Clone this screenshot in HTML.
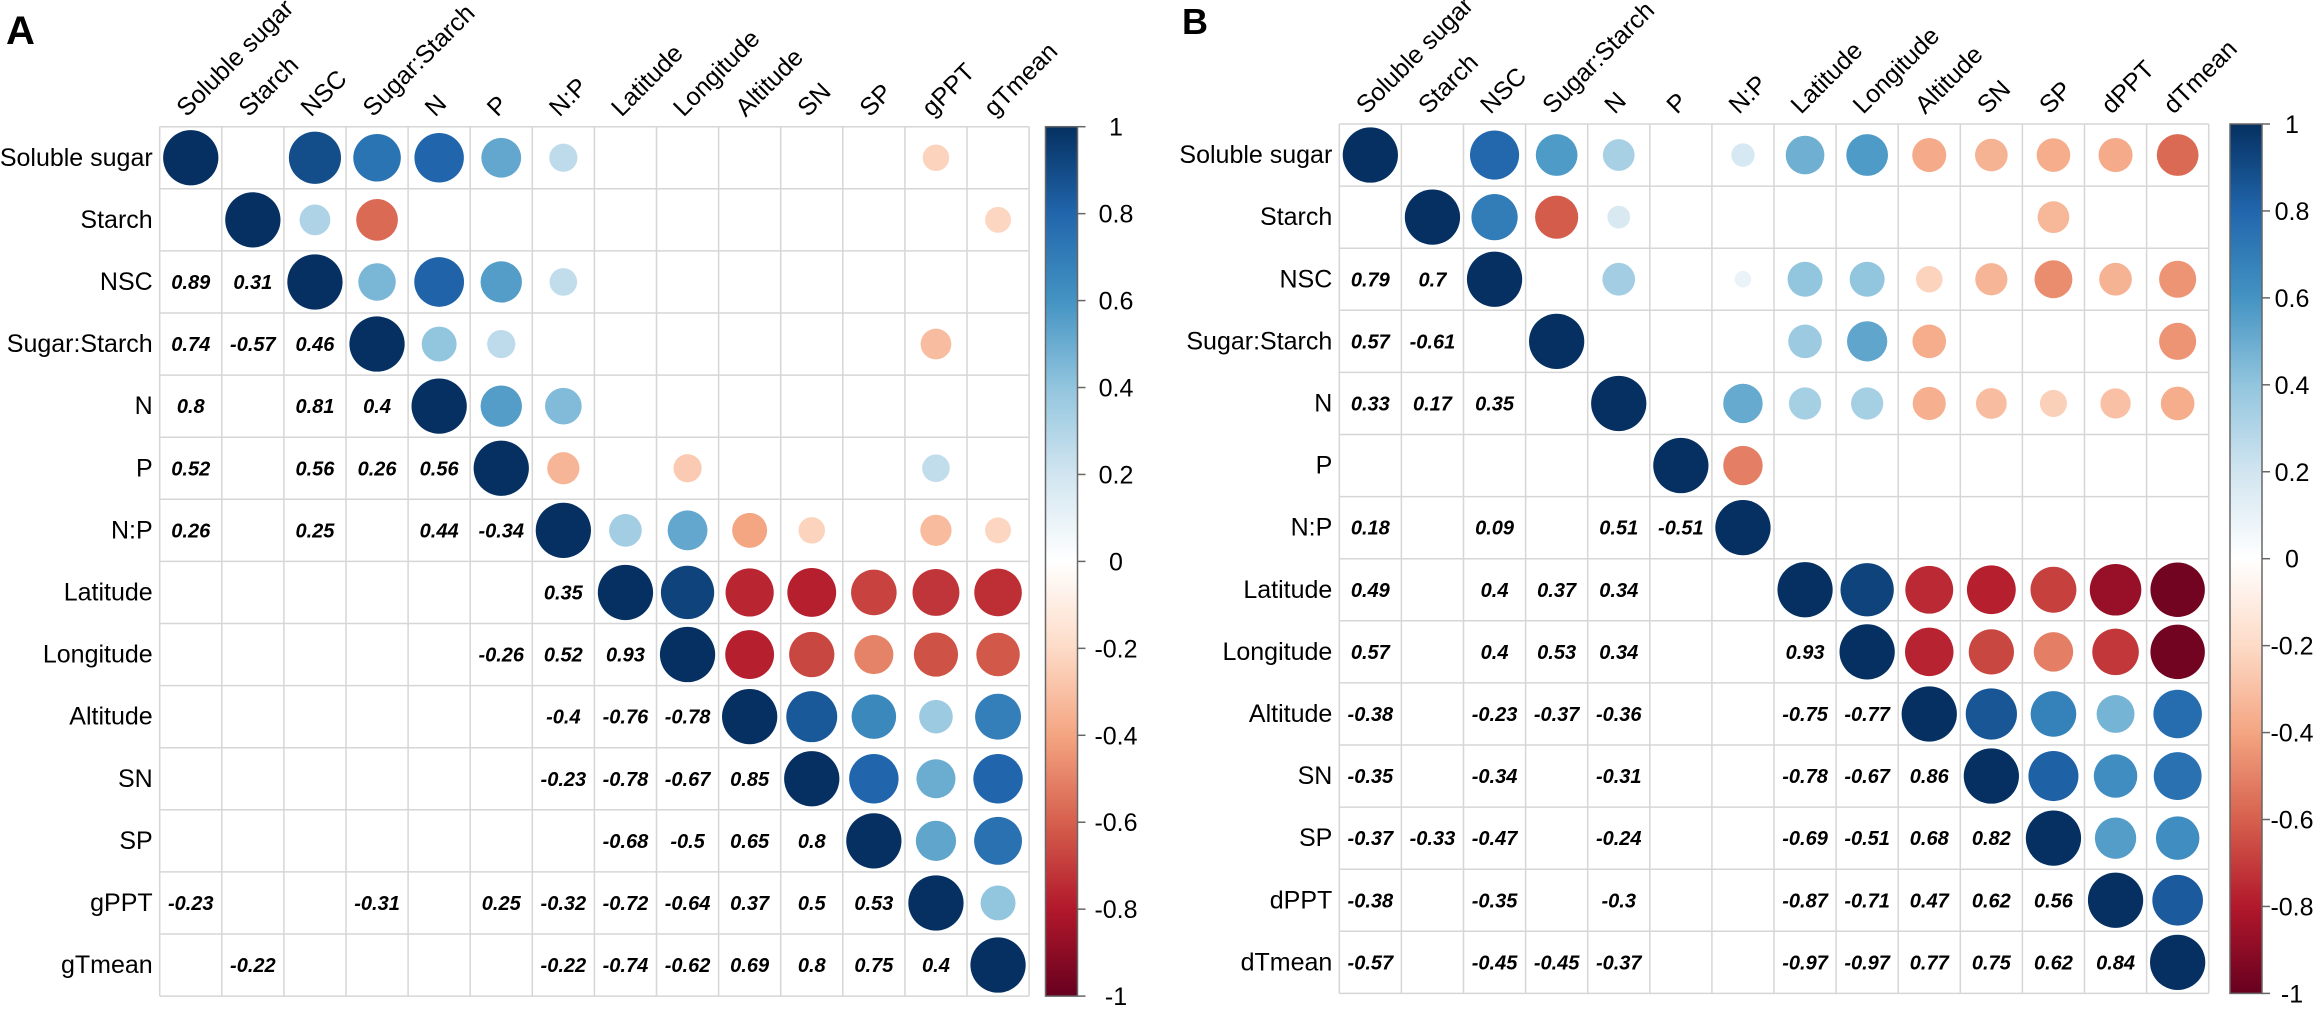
<!DOCTYPE html>
<html><head><meta charset="utf-8"><style>
html,body{margin:0;padding:0;background:#fff;}
svg{display:block;font-family:"Liberation Sans",Arial,sans-serif;}
</style></head><body>
<svg id="chart" width="2321" height="1010" viewBox="0 0 2321 1010" xmlns="http://www.w3.org/2000/svg">
<defs>
<linearGradient id="rdbu" x1="0" y1="1" x2="0" y2="0">
<stop offset="0" stop-color="#67001F"/><stop offset="0.1" stop-color="#B2182B"/><stop offset="0.2" stop-color="#D6604D"/><stop offset="0.3" stop-color="#F4A582"/><stop offset="0.4" stop-color="#FDDBC7"/><stop offset="0.5" stop-color="#FFFFFF"/><stop offset="0.6" stop-color="#D1E5F0"/><stop offset="0.7" stop-color="#92C5DE"/><stop offset="0.8" stop-color="#4393C3"/><stop offset="0.9" stop-color="#2166AC"/><stop offset="1" stop-color="#053061"/>
</linearGradient>
</defs>
<text x="6" y="44" font-size="40" font-weight="bold">A</text>
<text x="1182" y="34" font-size="36" font-weight="bold">B</text>
</svg>
<script>
const varsA = ["Soluble sugar","Starch","NSC","Sugar:Starch","N","P","N:P","Latitude","Longitude","Altitude","SN","SP","gPPT","gTmean"];
const lowerA = [
 [],
 [null],
 [0.89,0.31],
 [0.74,-0.57,0.46],
 [0.8,null,0.81,0.4],
 [0.52,null,0.56,0.26,0.56],
 [0.26,null,0.25,null,0.44,-0.34],
 [null,null,null,null,null,null,0.35],
 [null,null,null,null,null,-0.26,0.52,0.93],
 [null,null,null,null,null,null,-0.4,-0.76,-0.78],
 [null,null,null,null,null,null,-0.23,-0.78,-0.67,0.85],
 [null,null,null,null,null,null,null,-0.68,-0.5,0.65,0.8],
 [-0.23,null,null,-0.31,null,0.25,-0.32,-0.72,-0.64,0.37,0.5,0.53],
 [null,-0.22,null,null,null,null,-0.22,-0.74,-0.62,0.69,0.8,0.75,0.4]
];
const varsB = ["Soluble sugar","Starch","NSC","Sugar:Starch","N","P","N:P","Latitude","Longitude","Altitude","SN","SP","dPPT","dTmean"];
const lowerB = [
 [],
 [null],
 [0.79,0.7],
 [0.57,-0.61,null],
 [0.33,0.17,0.35,null],
 [null,null,null,null,null],
 [0.18,null,0.09,null,0.51,-0.51],
 [0.49,null,0.4,0.37,0.34,null,null],
 [0.57,null,0.4,0.53,0.34,null,null,0.93],
 [-0.38,null,-0.23,-0.37,-0.36,null,null,-0.75,-0.77],
 [-0.35,null,-0.34,null,-0.31,null,null,-0.78,-0.67,0.86],
 [-0.37,-0.33,-0.47,null,-0.24,null,null,-0.69,-0.51,0.68,0.82],
 [-0.38,null,-0.35,null,-0.3,null,null,-0.87,-0.71,0.47,0.62,0.56],
 [-0.57,null,-0.45,-0.45,-0.37,null,null,-0.97,-0.97,0.77,0.75,0.62,0.84]
];
const colorTicks = [1,0.8,0.6,0.4,0.2,0,-0.2,-0.4,-0.6,-0.8,-1];

const NS="http://www.w3.org/2000/svg";
const svg=document.getElementById('chart');
const pal=["#67001F","#B2182B","#D6604D","#F4A582","#FDDBC7","#FFFFFF","#D1E5F0","#92C5DE","#4393C3","#2166AC","#053061"];
function hex(h){return [1,3,5].map(i=>parseInt(h.substr(i,2),16));}
function color(r){
  let t=(r+1)/2*10; let i=Math.min(9,Math.floor(t)); let f=t-i;
  const a=hex(pal[i]), b=hex(pal[i+1]);
  return "rgb("+a.map((v,k)=>Math.round(v+(b[k]-v)*f)).join(",")+")";
}
function mk(tag,attrs,parent){const e=document.createElementNS(NS,tag);for(const k in attrs)e.setAttribute(k,attrs[k]);(parent||svg).appendChild(e);return e;}

function panel(id,vars,lower,x0,y0,cs,cbx,lblx){
  const n=vars.length;
  const g=mk('g',{});
  
  
  const val=(i,j)=>{ if(i===j) return 1; if(i>j) return lower[i][j]; return lower[j][i]; };
  const sx=j=>x0+j*cs+cs/2, sy=i=>y0+i*cs+cs/2;
  for(let k=0;k<=n;k++){
    const l1=mk('line',{x1:x0+k*cs,y1:y0,x2:x0+k*cs,y2:y0+n*cs,stroke:'#d6d6d6','stroke-width':1.5},g);
    
    
    const l2=mk('line',{x1:x0,y1:y0+k*cs,x2:x0+n*cs,y2:y0+k*cs,stroke:'#d6d6d6','stroke-width':1.5},g);
    
    
  }
  for(let i=0;i<n;i++){
    const rl=mk('text',{x:x0-7,y:sy(i)+8,'font-size':25,'text-anchor':'end'},g);
    rl.textContent=vars[i];
    
    
    const cl=mk('text',{x:0,y:0,'font-size':25,transform:`translate(${sx(i)-4},${y0-9}) rotate(-45)`},g);
    cl.textContent=vars[i];
    
    
    for(let j=0;j<n;j++){
      const v=val(i,j);
      if(v===null||v===undefined) continue;
      if(j>=i){
        const c=mk('circle',{cx:sx(j),cy:sy(i),r:cs*0.445*Math.sqrt(Math.abs(v)),fill:color(v)},g);
        
        
      } else {
        const t=mk('text',{x:sx(j),y:sy(i)+7,'font-size':20,'font-weight':'bold','font-style':'italic','text-anchor':'middle'},g);
        t.textContent=String(v);
        
        
      }
    }
  }
  const h=n*cs;
  const cb=mk('rect',{x:cbx,y:y0,width:32,height:h,fill:'url(#rdbu)',stroke:'#666','stroke-width':1.5},g);
  
  
  colorTicks.forEach(v=>{
    const y=y0+(1-v)/2*h;
    const tk=mk('line',{x1:cbx+32,y1:y,x2:cbx+40,y2:y,stroke:'#666','stroke-width':1.5},g);
    
    
    const tl=mk('text',{x:lblx,y:y+9,'font-size':25,'text-anchor':'middle'},g);
    tl.textContent=String(v);
    
    
  });
}
panel('panel-a',varsA,lowerA,159.7,126.7,62.1,1045.5,1116);
panel('panel-b',varsB,lowerB,1339.3,124,62.1,2230,2292);
</script>
</body></html>
